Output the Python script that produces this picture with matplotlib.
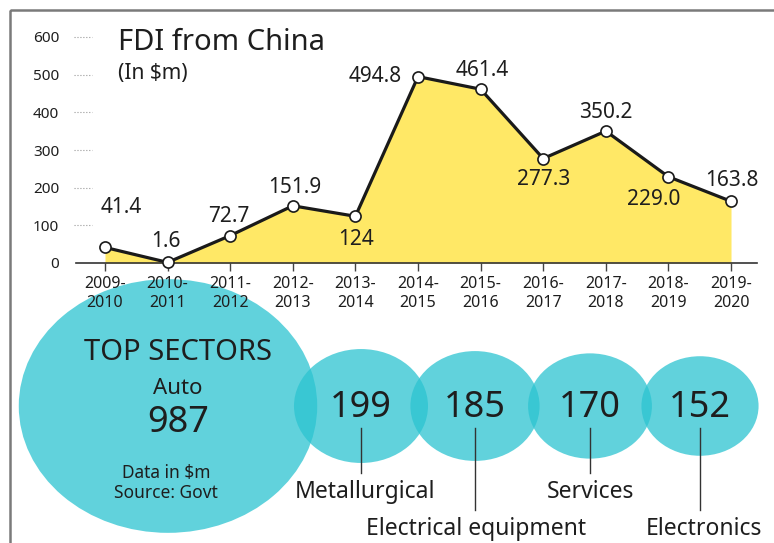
import numpy as np
import matplotlib
matplotlib.use("Agg")
import matplotlib.pyplot as plt
from matplotlib.patches import Ellipse, Rectangle

plt.rcParams['font.family'] = ['Noto Sans', 'DejaVu Sans']
plt.rcParams['font.weight'] = 'medium'

# FDI from China, in $m
years = ['2009-\n2010', '2010-\n2011', '2011-\n2012', '2012-\n2013', '2013-\n2014',
         '2014-\n2015', '2015-\n2016', '2016-\n2017', '2017-\n2018', '2018-\n2019',
         '2019-\n2020']
fdi = [41.4, 1.6, 72.7, 151.9, 124, 494.8, 461.4, 277.3, 350.2, 229.0, 163.8]
fdi_text = ['41.4', '1.6', '72.7', '151.9', '124', '494.8', '461.4', '277.3',
            '350.2', '229.0', '163.8']
yticks = [0, 100, 200, 300, 400, 500, 600]

# top sectors, in $m
sectors = ['Auto', 'Metallurgical', 'Electrical equipment', 'Services', 'Electronics']
sector_vals = [987, 199, 185, 170, 152]

# label offsets (pixels) for each point
offs = [(16, 40), (-2, 21), (-1, 19), (2, 18), (1, -23), (-43, 0),
        (2, 19), (0, -21), (0, 19), (-15, -23), (1, 21)]

W, H = 774, 543
fig = plt.figure(figsize=(W / 100, H / 100), dpi=100)
fig.patch.set_facecolor('white')

# pixel-space overlay for bubbles, border and text
bg = fig.add_axes([0, 0, 1, 1], zorder=0)
bg.set_xlim(0, W)
bg.set_ylim(H, 0)
bg.axis('off')
bg.add_patch(Rectangle((10, 10), 900, 700, fill=False, ec='#7a7a7a', lw=1.8))

teal = '#2cc4d1'
cx = [168, 361, 475, 590, 700]
cy = 406
k = 9.5
for x, v in zip(cx, sector_vals):
    w = k * np.sqrt(v)
    bg.add_patch(Ellipse((x, cy), w, w * 0.85, fc=teal, ec='none', alpha=0.75))

dark = '#1e1e1e'
bg.text(178, 352, 'TOP SECTORS', ha='center', va='center', fontsize=21, color=dark)
bg.text(178, 389, sectors[0], ha='center', va='center', fontsize=16, color=dark)
bg.text(178, 423, str(sector_vals[0]), ha='center', va='center', fontsize=26, color=dark)
bg.text(166, 473, 'Data in $m', ha='center', va='center', fontsize=12.5, color=dark)
bg.text(166, 493, 'Source: Govt', ha='center', va='center', fontsize=12.5, color=dark)

lab_x = [None, 365, 476, 590, 704]
lab_base = [None, 498, 535, 498, 535]
for i in range(1, 5):
    bg.text(cx[i], 408, str(sector_vals[i]), ha='center', va='center',
            fontsize=26, color=dark)
    bg.plot([cx[i], cx[i]], [428, lab_base[i] - 25], color='#333333', lw=1)
    bg.text(lab_x[i], lab_base[i], sectors[i], ha='center', va='baseline',
            fontsize=16.5, color=dark)

# line chart
ax = fig.add_axes([76 / W, (H - 263) / H, 681 / W, 226 / H], zorder=2)
ax.patch.set_alpha(0)
x = np.arange(len(fdi))
ax.fill_between(x, fdi, 0, color='#ffe866', lw=0)
ax.plot(x, fdi, color='#1a1a1a', lw=2.3, marker='o', ms=8, mfc='white',
        mec='#1a1a1a', mew=1.2, clip_on=False, zorder=3)
for xi, yi, t, (dx, dy) in zip(x, fdi, fdi_text, offs):
    ax.annotate(t, (xi, yi), xytext=(dx, dy), textcoords='offset pixels',
                ha='center', va='center', fontsize=15, color=dark)

ax.set_xlim(-0.463, 10.415)
ax.set_ylim(0, 600)
ax.set_xticks(x)
ax.set_xticklabels(years, fontsize=11.5, color=dark, linespacing=1.3)
ax.set_yticks(yticks)
ax.set_yticklabels([str(t) for t in yticks], fontsize=11, color=dark)
ax.tick_params(axis='y', length=0, pad=12)
ax.tick_params(axis='x', length=6, width=1, color='#444444', pad=3)
ax.hlines(yticks[1:], -0.495, -0.21, colors='#999999', lw=0.8,
          linestyles=':', clip_on=False)
for s in ['top', 'right', 'left']:
    ax.spines[s].set_visible(False)
ax.spines['bottom'].set_color('#333333')
ax.spines['bottom'].set_linewidth(1.2)

fig.text(118 / W, 1 - 43 / H, 'FDI from China', fontsize=21, color=dark,
         ha='left', va='center')
fig.text(118 / W, 1 - 73 / H, '(In $m)', fontsize=15, color=dark,
         ha='left', va='center')

fig.savefig('out.png', dpi=100)
